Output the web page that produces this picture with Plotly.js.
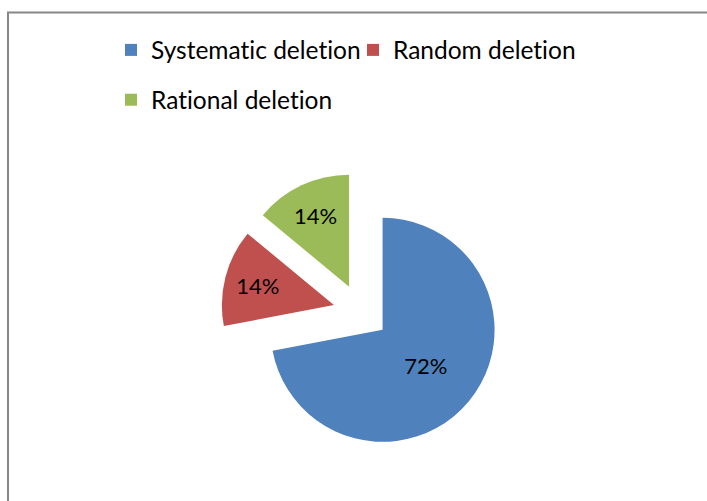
<!DOCTYPE html>
<html>
<head>
<meta charset="utf-8">
<script src="https://cdn.plot.ly/plotly-3.0.1.min.js"></script>
<style>
html,body{margin:0;padding:0;background:#fff;}
#chart{width:707px;height:501px;}
#chart text{font-variant-ligatures:none !important;font-feature-settings:"liga" 0 !important;}
</style>
</head>
<body>
<div id="chart"></div>
<script>
const categories = ["Systematic deletion", "Random deletion", "Rational deletion"];
const shares = [72, 14, 14];
const sliceColors = ["#4F81BD", "#C0504D", "#9BBB59"];

const W = 707, H = 501;
const FONT = "Lato, 'Open Sans', sans-serif";

const trace = {
  type: "pie",
  labels: categories,
  values: shares,
  sort: false,
  direction: "clockwise",
  rotation: 0,
  pull: 0.25,
  marker: { colors: sliceColors, line: { width: 0 } },
  textinfo: "percent",
  texttemplate: "%{percent:.0%}",
  textposition: "inside",
  insidetextorientation: "horizontal",
  insidetextfont: { family: FONT, size: 22, color: "#000" },
  domain: { x: [221 / W, 501 / W], y: [1 - 452 / H, 1 - 172 / H] },
  hoverinfo: "label+percent",
  showlegend: true
};

const layout = {
  width: W, height: H,
  margin: { l: 0, r: 0, t: 0, b: 0 },
  paper_bgcolor: "#fff",
  showlegend: true,
  legend: {
    orientation: "h",
    x: 111 / W, xanchor: "left",
    y: 1 - 20 / H, yanchor: "top",
    font: { family: FONT, size: 36, color: "#000" },
    entrywidth: 197,
    entrywidthmode: "pixels",
    bgcolor: "rgba(0,0,0,0)",
    traceorder: "normal"
  },
  shapes: [{
    type: "rect", xref: "paper", yref: "paper",
    x0: 8 / W, x1: 1.02, y0: -0.02, y1: 1 - 12.5 / H,
    line: { color: "#878787", width: 2 }, fillcolor: "rgba(0,0,0,0)", layer: "below"
  }]
};

// legend labels drawn at the reference text size inside a taller legend row
trace.labels = categories.map(c => '<span style="font-size:24.5px;baseline-shift:5px">' + c + '</span>');
trace.hovertext = categories;

Plotly.newPlot("chart", [trace], layout, { displayModeBar: false, staticPlot: true });
</script>
</body>
</html>
